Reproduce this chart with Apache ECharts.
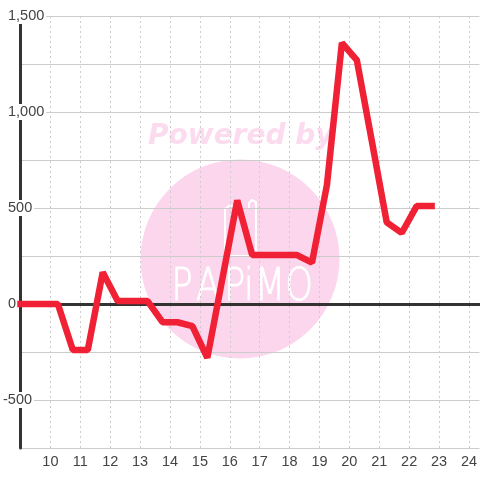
<!DOCTYPE html>
<html>
<head>
<meta charset="utf-8">
<style>
html, body { margin: 0; padding: 0; background: #fff; }
#chart { width: 480px; height: 480px; }
</style>
<script src="https://cdn.jsdelivr.net/npm/echarts@6/dist/echarts.min.js"></script>
</head>
<body>
<div id="chart"></div>
<script>
const hours = [9, 10.25, 10.75, 11.25, 11.75, 12.25, 12.75, 13.25, 13.75, 14.25, 14.75, 15.25, 15.75,
    16.25, 16.75, 17.25, 17.75, 18.25, 18.75, 19.25, 19.75, 20.25, 20.75, 21.25, 21.75, 22.25, 22.75];
const values = [0, 0, -240, -240, 165, 15, 15, 15, -95, -95, -115, -280, 130,
    540, 255, 255, 255, 255, 215, 620, 1360, 1270, 850, 425, 370, 510, 510];
const labelledTicks = [1500, 1000, 500, 0];
const negativeTicks = [-500];
const logoLetters = ['P', 'A', 'P', 'i', 'M', 'O'];
const logoLetterX = [182, 208, 234.5, 249, 270, 299];

const textColor = '#444';
const gridColor = '#ccc';
const axisColor = '#333';
const pink = '#fbd6ed';

const chart = echarts.init(document.getElementById('chart'));

function tickLabel(list) {
    return value => list.includes(value) ? echarts.format.addCommas(value) : '';
}

const option = {
    animation: false,
    grid: { left: 19.5, right: 0, top: 16, bottom: 32 },
    graphic: [
        { type: 'circle', z: -10, shape: { cx: 240, cy: 259, r: 99.5 }, style: { fill: pink } },
        {
            type: 'text', z: -10, x: 148, y: 136.5,
            style: {
                text: 'Powered by', fill: '#fcdbef', verticalAlign: 'middle',
                font: 'italic bold 28px "DejaVu Sans"'
            }
        },
        {
            type: 'polyline', z: -9,
            shape: { points: [[225, 256], [225, 209], [229, 206], [238, 206]] },
            style: { stroke: '#fff', fill: null, lineWidth: 2 }
        },
        {
            type: 'polyline', z: -9,
            shape: { points: [[225, 256], [256, 256], [256, 202], [252, 200], [249, 203], [249, 208]] },
            style: { stroke: '#fff', fill: null, lineWidth: 2 }
        }
    ].concat(logoLetters.map((letter, i) => ({
        type: 'text', z: -9, x: logoLetterX[i], y: 289, scaleX: 0.8,
        style: {
            text: letter, fill: '#fff', stroke: '#fff', lineWidth: 0.8,
            align: 'center', verticalAlign: 'middle',
            font: '200 44px "DejaVu Sans"'
        }
    }))),
    xAxis: [
        {
            type: 'value', min: 9, max: 24.35, interval: 1,
            axisLine: { onZero: false, show: false },
            axisTick: { show: false },
            axisLabel: { showMinLabel: false, showMaxLabel: false, color: textColor, fontSize: 14.5, fontFamily: 'Liberation Sans', margin: 6 },
            splitLine: { show: true, showMinLine: false, showMaxLine: false, lineStyle: { color: gridColor, type: [2, 3] } }
        },
        {
            // zero line only
            type: 'value', min: 9, max: 24.35, interval: 1,
            axisLine: { show: true, onZero: true, lineStyle: { color: axisColor, width: 3 } },
            axisTick: { show: false },
            axisLabel: { show: false },
            splitLine: { show: false }
        }
    ],
    yAxis: [
        {
            type: 'value', position: 'left', min: -750, max: 1500, interval: 250,
            axisLine: { show: true, onZero: false, lineStyle: { color: axisColor, width: 3 } },
            axisTick: { show: false },
            axisLabel: {
                formatter: tickLabel(labelledTicks), color: textColor, fontSize: 14.5, fontFamily: 'Liberation Sans',
                align: 'left', margin: 12.5, backgroundColor: '#fff', lineHeight: 10, padding: [6, 2, 0, 0]
            },
            splitLine: { show: true, lineStyle: { color: gridColor, width: 1 } }
        },
        {
            // -500 hangs further left than the other labels
            type: 'value', position: 'left', min: -750, max: 1500, interval: 250,
            axisLine: { show: false, onZero: false },
            axisTick: { show: false },
            axisLabel: {
                formatter: tickLabel(negativeTicks), color: textColor, fontSize: 14.5, fontFamily: 'Liberation Sans',
                align: 'left', margin: 17.5, backgroundColor: '#fff', lineHeight: 10, padding: [6, 2, 0, 0]
            },
            splitLine: { show: false }
        }
    ],
    series: [{
        type: 'line',
        data: hours.map((h, i) => [h, values[i]]),
        showSymbol: false,
        clip: false,
        z: 10,
        lineStyle: { color: '#f02035', width: 6.5, join: 'bevel', cap: 'square' }
    }]
};

chart.setOption(option);
</script>
</body>
</html>
